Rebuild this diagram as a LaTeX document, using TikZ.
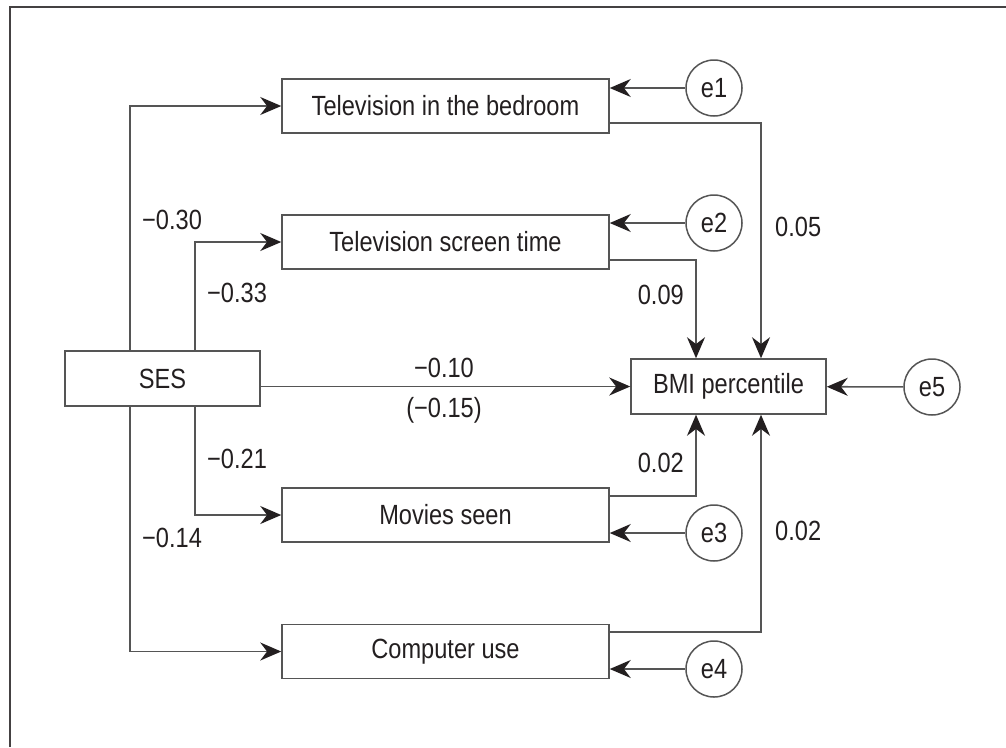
\documentclass[tikz,border=0pt]{standalone}
\usepackage{fontspec}
\setmainfont{Liberation Sans}[FakeStretch=0.85]
\usepackage{tikz}
\usetikzlibrary{arrows.meta, positioning}

\definecolor{ink}{HTML}{231F20}
\definecolor{wire}{HTML}{555555}

\begin{document}
\begin{tikzpicture}[x=0.2mm, y=-0.2mm, >={Stealth[length=4.2mm, width=3.6mm, color=ink]},
  every node/.style={text=ink, font=\fontsize{15.8}{19}\selectfont},
  var/.style={rectangle, draw=wire, line width=0.3mm, inner sep=0pt,
    minimum width=65.4mm, minimum height=10.8mm},
  short/.style={var, minimum width=39mm, minimum height=11mm},
  err/.style={circle, draw=wire, line width=0.3mm, inner sep=0pt, minimum size=11.2mm},
  link/.style={->, draw=wire, line width=0.32mm}]
  \useasboundingbox (0,0) rectangle (1006,747);
  \draw[ink!85, line width=0.55mm] (10,747) -- (10,7) -- (1006,7);

  \node[short] (ses) at (162.5,378.5) {SES};
  \node[short] (bmi) at (728.5,386.5) {BMI percentile};
  \node[var] (tvbed) at (445.5,106) {Television in the bedroom};
  \node[var] (tvtime) at (445.5,242) {Television screen time};
  \node[var] (movies) at (445.5,515) {Movies seen};
  \node[var] (comp) at (445.5,651.5) {Computer use};

  \node[err] (e1) at (714,88) {e1};
  \node[err] (e2) at (714,223) {e2};
  \node[err] (e3) at (714,533) {e3};
  \node[err] (e4) at (714,669) {e4};
  \node[err] (e5) at (932,387) {e5};

  % paths from SES
  \draw[link] ([xshift=-6.5mm]ses.north) |- (tvbed.west);
  \draw[link] ([xshift=6.5mm]ses.north) |- (tvtime.west);
  \draw[link] ([xshift=6.5mm]ses.south) |- (movies.west);
  \draw[link] ([xshift=-6.5mm]ses.south) |- (comp.west);
  \draw[link] (ses.east |- bmi.west) -- (bmi.west);

  % paths to BMI percentile
  \draw[link] ([yshift=-3.4mm]tvbed.east) -| ([xshift=6.5mm]bmi.north);
  \draw[link] ([yshift=-3.6mm]tvtime.east) -| ([xshift=-6.5mm]bmi.north);
  \draw[link] ([yshift=3.8mm]movies.east) -| ([xshift=-6.5mm]bmi.south);
  \draw[link] ([yshift=3.9mm]comp.east) -| ([xshift=6.5mm]bmi.south);

  % errors
  \draw[link] (e1) -- (tvbed.east |- e1);
  \draw[link] (e2) -- (tvtime.east |- e2);
  \draw[link] (e3) -- (movies.east |- e3);
  \draw[link] (e4) -- (comp.east |- e4);
  \draw[link] (e5) -- (bmi);

  % coefficients
  \node[anchor=west] (c1) at (136,220) {−0.30};
  \node[anchor=west] (c2) at (201,293) {−0.33};
  \node[anchor=west] (c3) at (201,459) {−0.21};
  \node[anchor=west] (c4) at (136,538) {−0.14};
  \node (c5) at (444,368) {−0.10};
  \node (c6) at (444,410) {(−0.15)};
  \node[anchor=west] (c7) at (769,227) {0.05};
  \node[anchor=east] (c8) at (690,295) {0.09};
  \node[anchor=east] (c9) at (690,463) {0.02};
  \node[anchor=west] (c10) at (769,531) {0.02};
\end{tikzpicture}
\end{document}
